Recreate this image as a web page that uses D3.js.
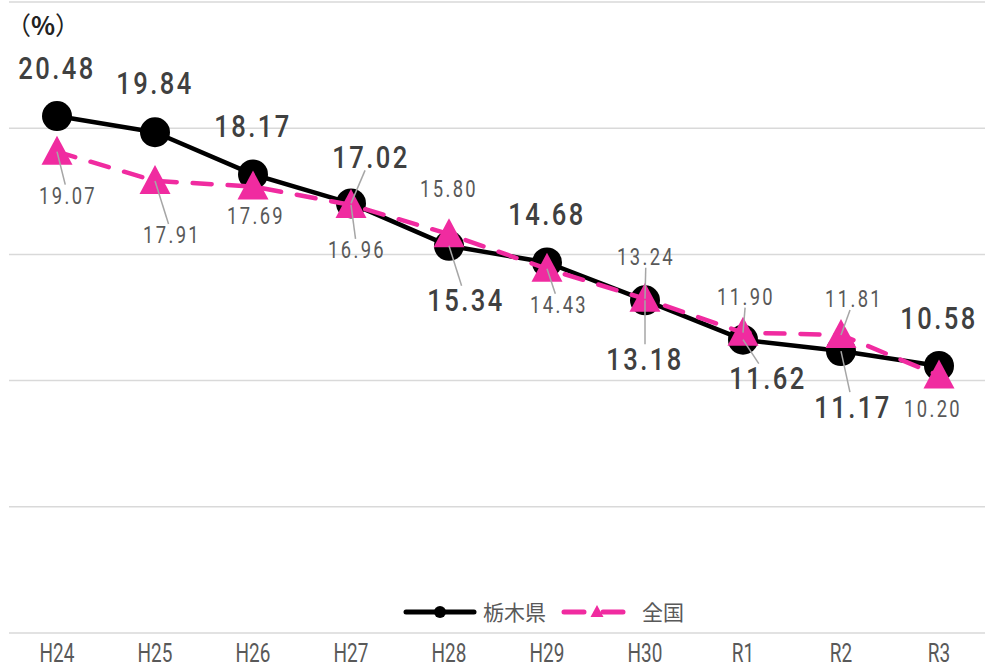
<!DOCTYPE html>
<html>
<head>
<meta charset="utf-8">
<script src="https://cdn.jsdelivr.net/npm/d3@7"></script>
<style>
  body { margin: 0; background: #fff; }
  svg { display: block; }
</style>
</head>
<body>
<svg id="chart" width="985" height="670"></svg>
<script>
// data
var categories = ["H24", "H25", "H26", "H27", "H28", "H29", "H30", "R1", "R2", "R3"];
var tochigi = [20.48, 19.84, 18.17, 17.02, 15.34, 14.68, 13.18, 11.62, 11.17, 10.58];
var zenkoku = [19.07, 17.91, 17.69, 16.96, 15.80, 14.43, 13.24, 11.90, 11.81, 10.20];
var yTicks = [0, 5, 10, 15, 20, 25];
var seriesNames = ["栃木県", "全国"];

// label placement (offset of label centre from its point, and whether a leader line is drawn)
var tochigiLabelPos = [[0, -49, 0], [0, -50, 0], [0, -49, 0], [20, -47, 1], [17, 54, 1],
                       [0, -49, 0], [0, 58, 1], [25, 38, 1], [12, 55, 1], [0, -48, 0]];
var zenkokuLabelPos = [[11, 44, 1], [17, 54, 1], [3, 29, 0], [6, 45, 1], [0, -45, 0],
                       [12, 36, 1], [1, -42, 1], [3, -36, 1], [13, -36, 1], [-6, 33, 0]];

var svg = d3.select("#chart");
var width = 985, height = 670;
var margin = ({top: 2, right: 0, bottom: 37, left: 8});
var pink = "#f02ba0";

var x = d3.scaleBand()
    .domain(categories)
    .range([margin.left, 988])
    .padding(0);

var y = d3.scaleLinear()
    .domain([0, 25])
    .range([height - margin.bottom, margin.top]);

var cx = d => x(d) + x.bandwidth() / 2;
var format = d3.format(".2f");

// gridlines
svg.append("g")
  .selectAll("line")
  .data(yTicks)
  .join("line")
    .attr("x1", 9)
    .attr("x2", width)
    .attr("y1", d => y(d))
    .attr("y2", d => y(d))
    .attr("stroke", "#d9d9d9")
    .attr("stroke-width", 1.5);

// x axis labels (condensed look)
var xAxis = g => g
    .attr("transform", `translate(0,${height - margin.bottom + 5})`)
    .call(d3.axisBottom(x).tickSize(0).tickPadding(6))
    .call(g => g.select(".domain").remove())
    .call(g => g.selectAll("text")
        .attr("fill", "#595959")
        .attr("transform", "scale(0.76,1)")
        .style("font", "25px Roboto, sans-serif"));
svg.append("g").call(xAxis);

// unit
var unit = svg.append("text")
    .attr("x", 6)
    .attr("y", 35)
    .attr("fill", "#222")
    .style("font", "25px 'Noto Sans CJK JP', sans-serif");
unit.append("tspan").text("（");
unit.append("tspan").style("font-weight", "bold").text("%");
unit.append("tspan").text("）");

var line = d3.line()
    .x((d, i) => cx(categories[i]))
    .y(d => y(d));

// 栃木県
svg.append("path")
    .datum(tochigi)
    .attr("fill", "none")
    .attr("stroke", "#000")
    .attr("stroke-width", 4.5)
    .attr("stroke-linejoin", "round")
    .attr("d", line);

svg.append("g")
  .selectAll("circle")
  .data(tochigi)
  .join("circle")
    .attr("cx", (d, i) => cx(categories[i]))
    .attr("cy", d => y(d))
    .attr("r", 15)
    .attr("fill", "#000");

// 全国
svg.append("path")
    .datum(zenkoku)
    .attr("fill", "none")
    .attr("stroke", pink)
    .attr("stroke-width", 4.5)
    .attr("stroke-linecap", "round")
    .attr("stroke-dasharray", "19,16")
    .attr("d", line);

var tri = "M0,-16L15.5,13L-15.5,13Z";
svg.append("g")
  .selectAll("path")
  .data(zenkoku)
  .join("path")
    .attr("transform", (d, i) => `translate(${cx(categories[i])},${y(d)})`)
    .attr("d", tri)
    .attr("fill", pink);

// leader lines + labels
function drawLabels(values, pos, halfH, style, color, sx) {
    var items = values.map((v, i) => ({
        v: v,
        px: cx(categories[i]),
        py: y(v),
        lx: cx(categories[i]) + pos[i][0],
        ly: y(v) + pos[i][1],
        leader: pos[i][2]
    }));

    svg.append("g")
      .selectAll("line")
      .data(items.filter(d => d.leader))
      .join("line")
        .attr("x1", d => d.px)
        .attr("y1", d => d.py)
        .attr("x2", d => {
            var ey = d.ly > d.py ? d.ly - halfH - 2 : d.ly + halfH + 2;
            var t = (ey - d.py) / (d.ly - d.py);
            return d.px + (d.lx - d.px) * t;
        })
        .attr("y2", d => d.ly > d.py ? d.ly - halfH - 2 : d.ly + halfH + 2)
        .attr("stroke", "#a6a6a6")
        .attr("stroke-width", 1.5);

    svg.append("g")
      .selectAll("text")
      .data(items)
      .join("text")
        .attr("transform", d => `translate(${d.lx},${d.ly}) scale(${sx},1)`)
        .attr("dy", "0.36em")
        .attr("text-anchor", "middle")
        .attr("fill", color)
        .style("font", style)
        .style("letter-spacing", "3px")
        .text(d => format(d.v));
}

drawLabels(tochigi, tochigiLabelPos, 12, "500 32px Roboto, sans-serif", "#404040", 0.8);
drawLabels(zenkoku, zenkokuLabelPos, 9, "23px Roboto, sans-serif", "#595959", 0.8);

// legend
var legend = svg.append("g").attr("transform", "translate(0,612)");
legend.append("line")
    .attr("x1", 406).attr("x2", 474)
    .attr("stroke", "#000").attr("stroke-width", 5).attr("stroke-linecap", "round");
legend.append("circle").attr("cx", 440).attr("r", 6).attr("fill", "#000");
legend.append("text")
    .attr("x", 483).attr("dy", "0.36em")
    .attr("fill", "#595959")
    .style("font", "21px 'Noto Sans CJK JP', sans-serif")
    .text(seriesNames[0]);
legend.append("line")
    .attr("x1", 564).attr("x2", 627)
    .attr("stroke", pink).attr("stroke-width", 5).attr("stroke-linecap", "round")
    .attr("stroke-dasharray", "20,19");
legend.append("path")
    .attr("transform", "translate(597,0)")
    .attr("d", "M0,-7L6.5,5L-6.5,5Z")
    .attr("fill", pink);
legend.append("text")
    .attr("x", 642).attr("dy", "0.36em")
    .attr("fill", "#595959")
    .style("font", "21px 'Noto Sans CJK JP', sans-serif")
    .text(seriesNames[1]);
</script>
</body>
</html>
